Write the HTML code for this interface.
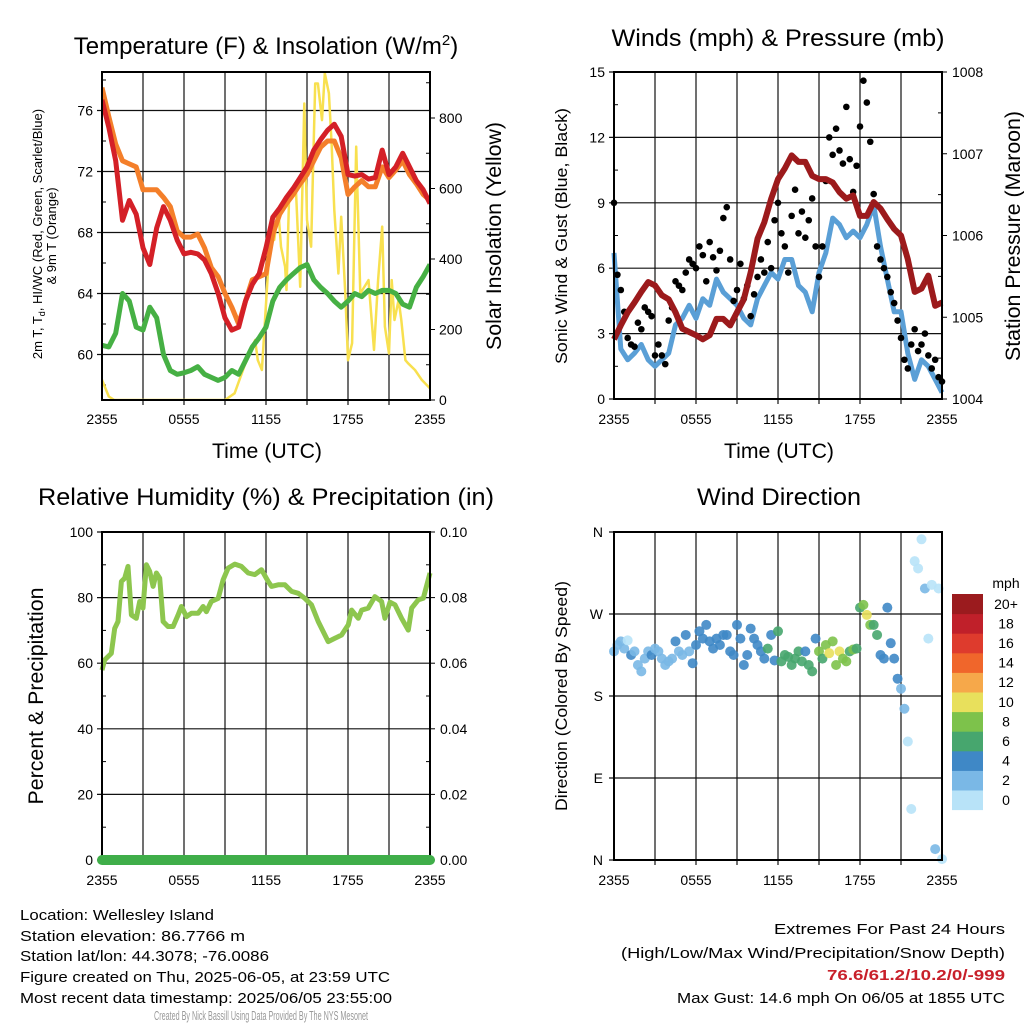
<!DOCTYPE html>
<html><head><meta charset="utf-8"><style>
html,body{margin:0;padding:0;background:#fff;}
svg{display:block;font-family:"Liberation Sans",Arial,sans-serif;}
</style></head><body>
<svg id="fig" width="1024" height="1024" viewBox="0 0 1024 1024" xmlns="http://www.w3.org/2000/svg">
<rect x="0" y="0" width="1024" height="1024" fill="#fff"/>
<g font-size="24" text-anchor="middle" fill="#000">
<text x="266" y="54">Temperature (F) &amp; Insolation (W/m<tspan dy="-9" font-size="15">2</tspan><tspan dy="9">)</tspan></text>
<text x="778" y="46" textLength="333" lengthAdjust="spacingAndGlyphs">Winds (mph) &amp; Pressure (mb)</text>
<text x="266" y="505" textLength="456" lengthAdjust="spacingAndGlyphs">Relative Humidity (%) &amp; Precipitation (in)</text>
<text x="779" y="505" textLength="164" lengthAdjust="spacingAndGlyphs">Wind Direction</text>
</g>
<g font-size="21" text-anchor="middle">
<text x="267" y="458" textLength="110" lengthAdjust="spacingAndGlyphs">Time (UTC)</text>
<text x="779" y="458" textLength="110" lengthAdjust="spacingAndGlyphs">Time (UTC)</text>
<text transform="translate(501,236) rotate(-90)" textLength="228" lengthAdjust="spacingAndGlyphs">Solar Insolation (Yellow)</text>
<text transform="translate(1020,236) rotate(-90)" textLength="250" lengthAdjust="spacingAndGlyphs">Station Pressure (Maroon)</text>
<text transform="translate(43,696) rotate(-90)" textLength="217" lengthAdjust="spacingAndGlyphs">Percent &amp; Precipitation</text>
</g>
<g font-size="17" text-anchor="middle">
<text transform="translate(567,236) rotate(-90)" textLength="256" lengthAdjust="spacingAndGlyphs">Sonic Wind &amp; Gust (Blue, Black)</text>
<text transform="translate(567,696) rotate(-90)" textLength="230" lengthAdjust="spacingAndGlyphs">Direction (Colored By Speed)</text>
</g>
<g font-size="13" text-anchor="middle">
<text transform="translate(42,234) rotate(-90)">2m T, T<tspan dy="3" font-size="9">d</tspan><tspan dy="-3">, HI/WC (Red, Green, Scarlet/Blue)</tspan></text>
<text transform="translate(56,236) rotate(-90)">&amp; 9m T (Orange)</text>
</g>
<g id="plots"></g>
<g font-size="15" fill="#000">
<text x="20" y="920" textLength="194" lengthAdjust="spacingAndGlyphs">Location: Wellesley Island</text>
<text x="20" y="941" textLength="225" lengthAdjust="spacingAndGlyphs">Station elevation: 86.7766 m</text>
<text x="20" y="961" textLength="249" lengthAdjust="spacingAndGlyphs">Station lat/lon: 44.3078; -76.0086</text>
<text x="20" y="982" textLength="370" lengthAdjust="spacingAndGlyphs">Figure created on Thu, 2025-06-05, at 23:59 UTC</text>
<text x="20" y="1003" textLength="372" lengthAdjust="spacingAndGlyphs">Most recent data timestamp: 2025/06/05 23:55:00</text>
<text x="1005" y="934" text-anchor="end" textLength="231" lengthAdjust="spacingAndGlyphs">Extremes For Past 24 Hours</text>
<text x="1005" y="958" text-anchor="end" textLength="384" lengthAdjust="spacingAndGlyphs">(High/Low/Max Wind/Precipitation/Snow Depth)</text>
<text x="1005" y="980" text-anchor="end" font-weight="bold" fill="#c8202a" textLength="178" lengthAdjust="spacingAndGlyphs">76.6/61.2/10.2/0/-999</text>
<text x="1005" y="1003" text-anchor="end" textLength="328" lengthAdjust="spacingAndGlyphs">Max Gust: 14.6 mph On 06/05 at 1855 UTC</text>
<text x="154" y="1020" font-size="13" fill="#999" textLength="214" lengthAdjust="spacingAndGlyphs">Created By Nick Bassill Using Data Provided By The NYS Mesonet</text>
</g>
</svg>
<script>
// ---- data (half-hour steps, hours 0..24 from 2355 UTC) ----
const tempHours = [0,0.5,1,1.5,2,2.5,3,3.5,4,4.5,5,5.5,6,6.5,7,7.5,8,8.5,9,9.5,10,10.5,11,11.5,12,12.5,13,13.5,14,14.5,15,15.5,16,16.5,17,17.5,18,18.5,19,19.5,20,20.5,21,21.5,22,22.5,23,23.5,24];
const temp2m = [76.7,74.9,72.7,68.8,70.1,69.2,67.0,65.9,68.3,69.7,68.8,67.5,66.6,66.7,66.6,66.2,65.3,64.0,62.4,61.6,61.8,63.5,64.6,65.3,67.0,69.0,69.6,70.3,70.9,71.6,72.3,73.4,74.1,74.7,75.1,74.3,71.8,71.7,71.8,71.5,71.6,73.4,71.8,72.3,73.2,72.3,71.4,70.8,69.9];
const temp9m = [77.5,75.6,73.8,72.7,72.5,72.3,70.8,70.8,70.8,70.3,69.7,68.1,67.7,67.7,67.9,67.0,65.7,65.1,64.0,63.1,62.0,63.5,64.9,65.1,65.3,67.9,69.2,69.9,70.5,71.2,71.8,72.7,73.6,74.0,74.0,72.9,70.5,71.0,71.4,71.0,71.0,72.3,71.6,72.1,72.7,71.8,71.2,70.5,70.1];
const dewpoint = [60.6,60.5,61.4,64.0,63.5,61.8,61.6,63.1,62.4,60.0,58.95,58.7,58.8,58.95,59.2,58.7,58.5,58.3,58.5,58.95,58.7,59.6,60.5,61.1,61.8,63.5,64.4,64.9,65.3,65.7,65.9,64.9,64.4,64.0,63.5,63.1,63.5,64.0,63.8,64.2,64.0,64.2,64.2,64.0,63.3,63.1,64.4,65.1,65.9];
const solarHours = [0,0.5,0.9,9,9.7,10.4,11.2,11.4,11.7,11.9,12.2,12.4,12.6,12.9,13.1,13.4,13.5,13.7,14.0,14.2,14.5,14.8,15.0,15.3,15.6,15.8,16.1,16.3,16.6,16.8,17.0,17.3,17.5,17.8,18.0,18.3,18.6,18.9,19.5,19.9,20.2,20.5,20.7,21.0,21.2,21.4,21.7,21.9,22.2,22.4,22.9,23.4,24];
const solarVals = [57,10,0,0,19,94,170,113,85,208,397,492,454,539,435,378,312,586,605,586,321,841,511,435,898,898,794,927,870,728,539,359,520,302,113,161,719,302,340,142,340,492,208,132,340,227,284,227,113,104,85,57,33];
const tempTicks = [60,64,68,72,76];
const solarTicks = [0,200,400,600,800];
const timeTickLabels = ["2355","0555","1155","1755","2355"];

const windSpeed = [6.7,2.3,1.8,2.1,2.5,1.8,1.5,1.8,2.1,3.4,3.7,4.3,3.7,4.6,4.3,5.5,4.9,4.6,4.3,3.7,3.4,4.6,5.2,5.8,5.5,6.4,6.4,5.2,4.9,4.0,5.8,6.7,8.3,8.0,7.4,7.7,7.4,8.0,8.9,7.0,5.5,4.0,4.0,2.1,0.9,1.8,1.5,0.9,0.3];
const pressure = [1004.73,1004.90,1005.06,1005.18,1005.31,1005.43,1005.39,1005.27,1005.22,1005.06,1004.86,1004.82,1004.78,1004.73,1004.78,1004.98,1004.98,1004.90,1005.06,1005.22,1005.55,1005.96,1006.16,1006.45,1006.69,1006.82,1006.98,1006.90,1006.90,1006.73,1006.69,1006.69,1006.65,1006.53,1006.45,1006.49,1006.24,1006.24,1006.41,1006.33,1006.20,1006.08,1006.00,1005.71,1005.31,1005.35,1005.51,1005.14,1005.18];
const gust = [9.0,5.7,5.0,4.0,2.8,2.5,2.4,3.5,3.2,4.2,4.0,3.8,2.0,2.5,2.0,1.6,3.6,4.2,5.4,5.2,5.0,5.8,6.4,6.2,6.0,7.0,6.6,5.4,7.2,6.5,5.9,6.8,8.3,8.8,6.4,4.5,5.0,6.2,4.6,5.2,3.8,4.8,5.6,6.4,5.8,7.2,6.0,8.2,9.0,7.6,7.0,5.8,8.4,9.6,7.6,8.6,7.4,8.2,9.2,7.0,5.6,7.0,10.0,12.0,11.2,12.4,11.4,10.8,13.4,11.0,9.5,10.7,12.5,14.6,13.6,11.8,9.4,7.0,6.4,6.0,5.6,4.9,4.4,3.6,2.8,1.8,1.4,2.5,3.2,2.2,2.5,3.0,2.0,1.4,1.8,1.0,0.8];
const windTicks = [0,3,6,9,12,15];
const pressureTicks = [1004,1005,1006,1007,1008];

const rhHours = [0,0.2,0.68,0.93,1.17,1.42,1.66,1.9,2.15,2.51,2.76,3.0,3.25,3.49,3.74,3.98,4.22,4.47,4.83,5.2,5.57,5.81,6.18,6.54,7.03,7.4,7.64,8.0,8.5,8.86,9.23,9.72,10.2,10.7,11.18,11.67,12.16,12.4,12.89,13.38,13.87,14.36,14.84,15.33,15.82,16.31,16.55,17.04,17.53,18.02,18.26,18.75,19.0,19.48,19.97,20.46,20.7,21.07,21.44,21.92,22.41,22.66,23.14,23.51,24];
const rhVals = [57.9,61.0,63.0,70.6,72.7,84.9,85.9,89.5,74.7,73.7,78.8,76.8,90.0,88.0,83.4,87.5,85.9,72.7,71.2,71.2,74.7,77.3,74.2,75.2,75.2,77.3,75.7,78.8,79.8,85.4,89.0,90.2,89.5,87.5,87.0,88.5,84.9,83.4,83.9,83.9,81.9,81.3,79.8,77.8,72.7,68.6,66.6,67.6,68.6,71.7,76.2,73.7,76.2,76.8,80.3,78.8,73.7,78.6,77.8,73.7,70.1,76.8,79.3,79.8,87.5];
const precipHours = [0,24];
const precipVals = [0,0];
const rhTicks = [0,20,40,60,80,100];
const precipTicks = ["0.00","0.02","0.04","0.06","0.08","0.10"];

const dirDeg = [229,236,240,232,241,225,229,214,207,221,229,225,232,229,221,214,218,221,240,229,225,247,229,216,236,251,243,258,240,232,243,236,247,247,229,225,258,243,214,225,254,243,236,229,221,232,247,219,251,218,225,223,214,221,229,218,229,214,207,243,229,221,236,227,240,214,229,221,218,229,231,232,277,280,269,258,258,247,225,221,277,238,221,199,188,166,130,56,328,320,352,298,243,302,12,298,1];
const dirSpeed = [3.5,2.5,3,2.5,1.5,4.5,3,2.5,3,2.5,3,4.5,2.5,3,2.5,3,3.5,3,4.5,3,3.5,5,3,4.5,4.5,5,4.5,5.5,4.5,4.5,5,4.5,5,4.5,5,4.5,5.5,4.5,4.5,5,5.5,4.5,5,4.5,5,6.5,5,5,6.5,6.5,7,6.5,7,6.5,6.5,7,5,7,6.5,5,8.5,7,8.5,10.5,9,8.5,10.5,8.5,9,7,8.5,7,7,9,10.5,9,7,6.5,5,5,4.5,5,4.5,4,3,2.5,1.5,1.5,1,1.5,1,2.5,1.5,1,2.5,1,1.5];
const dirTickLabels = ["N","E","S","W","N"];
const speedBins = ["0","2","4","6","8","10","12","14","16","18","20+"];
const speedColors = ["#b8e3f8","#7ab8e6","#3f88c6","#47a66e","#7dc24b","#e8e05c","#f6a84a","#f0662b","#de3b2d","#c0202a","#9b1b1e"];

// ---- helpers ----
const NS = "http://www.w3.org/2000/svg";
const root = document.getElementById("plots");
function mk(tag, attrs, parent) {
  const e = document.createElementNS(NS, tag);
  for (const k in attrs) e.setAttribute(k, attrs[k]);
  (parent || root).appendChild(e);
  return e;
}
function linScale(d0, d1, r0, r1) { return v => r0 + (v - d0) / (d1 - d0) * (r1 - r0); }
function pathFrom(xs, ys, sx, sy) {
  return xs.map((h, i) => (i ? "L" : "M") + sx(h).toFixed(1) + "," + sy(ys[i]).toFixed(1)).join("");
}
function frame(g, x0, y0, x1, y1, name) {
  const sx = linScale(0, 24, x0, x1);
  for (let h = 3; h < 24; h += 3) {
    const l = mk("line", {x1: sx(h), x2: sx(h), y1: y0, y2: y1 + 5, stroke: "#111", "stroke-width": 1.2}, g);
    
    
  }
  return sx;
}
function hgrid(g, x0, x1, y, name) {
  const l = mk("line", {x1: x0 - 5, x2: x1, y1: y, y2: y, stroke: "#111", "stroke-width": 1.2}, g);
  
  
}
function border(g, x0, y0, x1, y1, name) {
  const r = mk("rect", {x: x0, y: y0, width: x1 - x0, height: y1 - y0, fill: "none", stroke: "#000", "stroke-width": 2}, g);
  
  
}
function label(g, x, y, txt, anchor, name, size) {
  const t = mk("text", {x: x, y: y, "text-anchor": anchor, "font-size": size || 14}, g);
  t.textContent = txt;
  
  
}
function xTicks(g, sx, y, name) {
  timeTickLabels.forEach((lab, i) => {
    label(g, sx(i * 6), y, lab, "middle", name);
  });
}
function ticks(g, x, ys, len) {
  ys.forEach(y => {
    const l = mk("line", {x1: x, x2: x + len, y1: y, y2: y, stroke: "#000", "stroke-width": 1}, g);
    
    
  });
}

// ================= Panel 1: temperature =================
(function () {
  const x0 = 102, x1 = 430, y0 = 72, y1 = 400;
  const g = mk("g", {});
  
  
  const sx = frame(g, x0, y0, x1, y1, "temperature");
  const sy = linScale(76, 60, 110.5, 354.5);
  const ss = linScale(0, 800, 400, 118);
  tempTicks.forEach(t => {
    hgrid(g, x0, x1, sy(t), "temperature-hgrid");
    label(g, x0 - 9, sy(t) + 5, String(t), "end", "temperature-tick-label");
  });
  ticks(g, x0, tempTicks.map(t => sy(t + 2)).concat([sy(58)]).filter(y => y > y0 && y < y1), 4);
  solarTicks.forEach(s => label(g, x1 + 9, ss(s) + 5, String(s), "start", "solar-tick-label"));
  ticks(g, x1, [100,300,500,700,900].map(ss).filter(y => y > y0 && y < y1), -4);
  ticks(g, x1, solarTicks.map(ss), 5);
  xTicks(g, sx, 424, "temperature-x-tick-label");
  const clip = mk("clipPath", {id: "clip1"}, g);
  mk("rect", {x: x0, y: y0 - 6, width: x1 - x0, height: y1 - y0 + 6}, clip);
  const s = mk("g", {"clip-path": "url(#clip1)"}, g);
  const p1 = mk("path", {d: pathFrom(solarHours, solarVals, sx, ss), fill: "none", stroke: "#f8e04f", "stroke-width": 2.5, "stroke-linejoin": "round"}, s);
  
  
  const p2 = mk("path", {d: pathFrom(tempHours, dewpoint, sx, sy), fill: "none", stroke: "#46b044", "stroke-width": 5, "stroke-linejoin": "round"}, s);
  
  
  const p3 = mk("path", {d: pathFrom(tempHours, temp9m, sx, sy), fill: "none", stroke: "#f47f2a", "stroke-width": 5, "stroke-linejoin": "round"}, s);
  
  
  const p4 = mk("path", {d: pathFrom(tempHours, temp2m, sx, sy), fill: "none", stroke: "#d42027", "stroke-width": 5, "stroke-linejoin": "round"}, s);
  
  
  border(g, x0, y0, x1, y1, "temperature-plot-border");
})();

// ================= Panel 2: winds =================
(function () {
  const x0 = 614, x1 = 942, y0 = 72, y1 = 399;
  const g = mk("g", {});
  
  
  const sx = frame(g, x0, y0, x1, y1, "winds");
  const sy = linScale(0, 15, y1, y0);
  const sp = linScale(1004, 1008, y1, y0);
  windTicks.forEach(w => {
    hgrid(g, x0, x1, sy(w), "winds-hgrid");
    label(g, x0 - 9, sy(w) + 5, String(w), "end", "wind-tick-label");
  });
  ticks(g, x0, windTicks.map(w => sy(w + 1.5)).filter(y => y > y0), 4);
  pressureTicks.forEach(p => {
    label(g, x1 + 10, sp(p) + 5, String(p), "start", "pressure-tick-label");
  });
  ticks(g, x1, pressureTicks.map(sp), 5);
  ticks(g, x1, [1004.5,1005.5,1006.5,1007.5].map(sp), -4);
  xTicks(g, sx, 424, "winds-x-tick-label");
  const p1 = mk("path", {d: pathFrom(tempHours, windSpeed, sx, sy), fill: "none", stroke: "#5a9fd6", "stroke-width": 5, "stroke-linejoin": "round"}, g);
  
  
  gust.forEach((v, i) => {
    const c = mk("circle", {cx: sx(i * 0.25), cy: sy(v), r: 3.3, fill: "#000"}, g);
    
    
  });
  const p2 = mk("path", {d: pathFrom(tempHours, pressure, sx, sp), fill: "none", stroke: "#9c1a1c", "stroke-width": 6, "stroke-linejoin": "round"}, g);
  
  
  border(g, x0, y0, x1, y1, "winds-plot-border");
})();

// ================= Panel 3: humidity =================
(function () {
  const x0 = 102, x1 = 430, y0 = 532, y1 = 860;
  const g = mk("g", {});
  
  
  const sx = frame(g, x0, y0, x1, y1, "humidity");
  const sy = linScale(0, 100, y1, y0);
  const sp = linScale(0, 0.1, y1, y0);
  rhTicks.forEach(r => {
    hgrid(g, x0, x1, sy(r), "humidity-hgrid");
    label(g, x0 - 9, sy(r) + 5, String(r), "end", "humidity-tick-label");
  });
  ticks(g, x0, rhTicks.map(r => sy(r + 10)).filter(y => y > y0), 4);
  precipTicks.forEach((lab, i) => {
    label(g, x1 + 10, sp(i * 0.02) + 5, lab, "start", "precip-tick-label");
  });
  ticks(g, x1, [0,0.02,0.04,0.06,0.08,0.1].map(sp), 5);
  ticks(g, x1, [0.01,0.03,0.05,0.07,0.09].map(sp), -4);
  xTicks(g, sx, 885, "humidity-x-tick-label");
  const p1 = mk("path", {d: pathFrom(rhHours, rhVals, sx, sy), fill: "none", stroke: "#8dc64e", "stroke-width": 5, "stroke-linejoin": "round"}, g);
  
  
  border(g, x0, y0, x1, y1, "humidity-plot-border");
  const p2 = mk("path", {d: pathFrom(precipHours, precipVals, sx, sp), fill: "none", stroke: "#3fae49", "stroke-width": 10, "stroke-linecap": "round"}, g);
  
  
})();

// ================= Panel 4: wind direction =================
(function () {
  const x0 = 614, x1 = 942, y0 = 532, y1 = 860;
  const g = mk("g", {});
  
  
  const sx = frame(g, x0, y0, x1, y1, "direction");
  const sy = linScale(0, 360, y1, y0);
  dirTickLabels.forEach((lab, i) => {
    hgrid(g, x0, x1, sy(i * 90), "direction-hgrid");
    label(g, x0 - 11, sy(i * 90) + 5, lab, "end", "direction-tick-label");
  });
  xTicks(g, sx, 885, "direction-x-tick-label");
  function colorFor(v) { return speedColors[Math.min(10, Math.floor(v / 2))]; }
  dirDeg.forEach((d, i) => {
    const c = mk("circle", {cx: sx(i * 0.25), cy: sy(d), r: 5, fill: colorFor(dirSpeed[i]), "fill-opacity": 0.9}, g);
    
    
  });
  border(g, x0, y0, x1, y1, "direction-plot-border");
  const cb = mk("g", {});
  
  
  const top = 594, bh = 19.6;
  label(cb, 1006, 588, "mph", "middle", "colorbar-title");
  speedBins.forEach((lab, i) => {
    const k = speedBins.length - 1 - i;
    const r = mk("rect", {x: 952, y: top + k * bh, width: 31, height: bh + 0.5, fill: speedColors[i]}, cb);
    
    
    label(cb, 1006, top + k * bh + bh / 2 + 5, lab, "middle", "colorbar-label");
  });
})();
</script>
</body></html>
